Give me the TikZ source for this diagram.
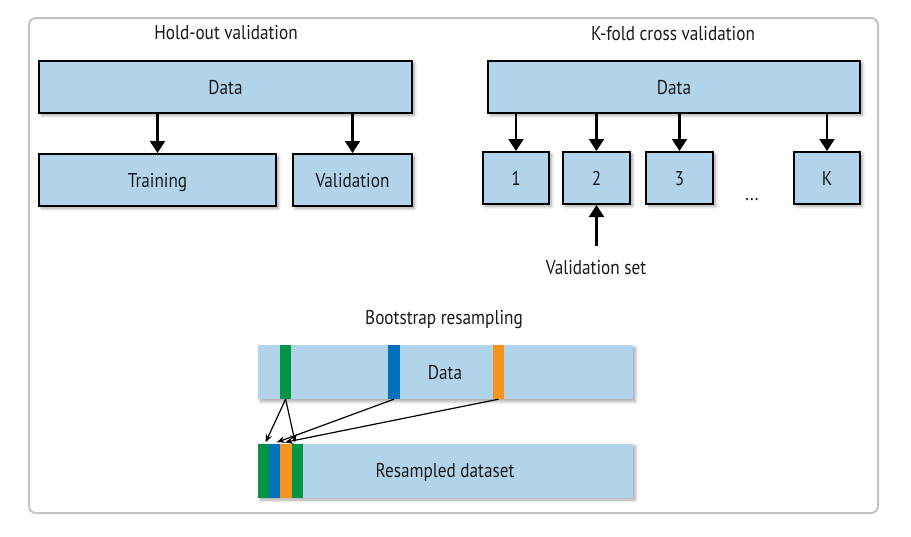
\documentclass[tikz,border=0pt]{standalone}
\usepackage{fontspec}
\setmainfont[FakeStretch=0.86]{PT Sans}
\usetikzlibrary{arrows.meta,shadows.blur}

\definecolor{boxblue}{HTML}{B2D4EA}
\definecolor{framegray}{HTML}{C4C4C8}
\definecolor{sgreen}{HTML}{009444}
\definecolor{sblue}{HTML}{0072BC}
\definecolor{sorange}{HTML}{F7941D}

\begin{document}
\begin{tikzpicture}[x=1pt,y=-1pt,
  lbl/.style={font=\fontsize{20}{22}\selectfont, text=black!90, inner sep=0pt,
      text height=14pt, text depth=0pt},
  softshadow/.style={blur shadow={shadow xshift=2.5pt, shadow yshift=-2.5pt,
      shadow blur radius=3pt, shadow blur steps=6, shadow opacity=35}},
  box/.style={lbl, draw=black, line width=2.2pt, fill=boxblue,
      minimum height=51.8pt, softshadow},
  bar/.style={lbl, fill=boxblue, minimum height=54pt, minimum width=375pt, softshadow},
  stripe/.style={inner sep=0pt, minimum width=11.2pt, minimum height=54pt},
  heavy/.style={-{Triangle[length=12pt,width=15pt]}, line width=2.2pt},
  thin/.style={-{Stealth[length=8pt,width=6.5pt]}, line width=1.2pt}]

\useasboundingbox (0,0) rectangle (911,536);

% outer frame
\draw[framegray, line width=2pt, rounded corners=7pt] (29,18) rectangle (878,513);

% ---- hold-out validation ----
\node[lbl] (htitle) at (226,32.5) {Hold-out validation};
\node[box, minimum width=372.8pt] (hdata) at (225.5,87) {Data};
\node[box, minimum width=236.8pt] (htrain) at (157.5,180) {Training};
\node[box, minimum width=118.8pt] (hval) at (352.5,180) {Validation};
\draw[heavy] (hdata.south -| htrain.north) -- (htrain.north);
\draw[heavy] (hdata.south -| hval.north) -- (hval.north);

% ---- k-fold cross validation ----
\node[lbl] (ktitle) at (673,33) {K-fold cross validation};
\node[box, minimum width=371.8pt] (kdata) at (674,87) {Data};
\node[box, minimum width=65.8pt] (k1) at (516,178) {1};
\node[box, minimum width=66.8pt] (k2) at (596.5,178) {2};
\node[box, minimum width=66.8pt] (k3) at (679.5,178) {3};
\node[box, minimum width=65.8pt] (kk) at (827,178) {K};
\node[lbl] (kdots) at (752,193) {...};
\foreach \f in {k1,k2,k3,kk}
  \draw[heavy] (kdata.south -| \f.north) -- (\f.north);
\coordinate (vsrc) at (596.5,246);
\draw[heavy] (vsrc) -- (k2.south);
\node[lbl] (vlabel) at (596,267.5) {Validation set};

% ---- bootstrap resampling ----
\node[lbl] (btitle) at (444,317) {Bootstrap resampling};
\node[bar] (bdata) at (445.5,372) {};
\node[lbl] (bdatalbl) at (445,372) {Data};
\node[stripe, fill=sgreen]  (dg) at (285.6,372) {};
\node[stripe, fill=sblue]   (db) at (394,372) {};
\node[stripe, fill=sorange] (do) at (498.5,372) {};

\node[bar] (bres) at (445.5,470.5) {};
\node[lbl] (breslbl) at (445,470.5) {Resampled dataset};
\node[stripe, fill=sgreen]  (r1) at (263.6,470.5) {};
\node[stripe, fill=sblue]   (r2) at (274.8,470.5) {};
\node[stripe, fill=sorange] (r3) at (286,470.5) {};
\node[stripe, fill=sgreen]  (r4) at (297.2,470.5) {};

\draw[thin] (dg.south) -- ([xshift=2pt,yshift=1pt]r1.north);
\draw[thin] (dg.south) -- ([xshift=-2pt,yshift=1pt]r4.north);
\draw[thin] (db.south) -- ([xshift=2pt,yshift=1pt]r2.north);
\draw[thin] (do.south) -- ([xshift=-1pt,yshift=1pt]r3.north);
\end{tikzpicture}
\end{document}
